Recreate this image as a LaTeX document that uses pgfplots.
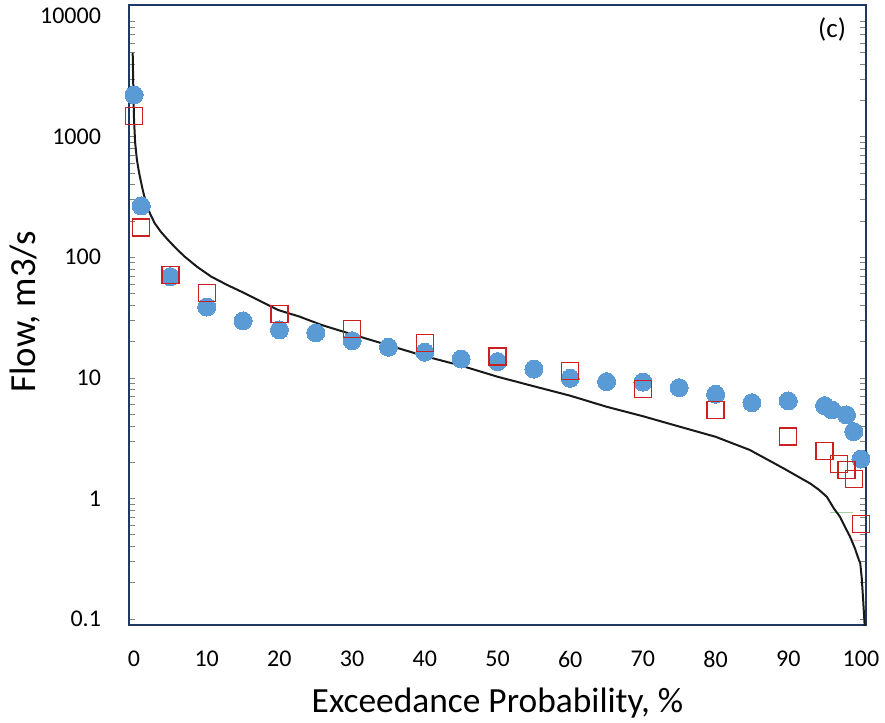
\documentclass[border=0pt]{standalone}
\usepackage{pgfplots}
\pgfplotsset{compat=1.18}
\usepackage{fontspec}
\setmainfont{Carlito}
\definecolor{bluept}{HTML}{5B9BD5}
\definecolor{redsq}{HTML}{CC1F1F}
\definecolor{frame}{HTML}{1F3864}
\begin{document}
\begin{tikzpicture}
\path[use as bounding box] (-64.5pt,-49pt) rectangle (378pt,312.5pt);
\begin{axis}[
  scale only axis, width=368.5pt, height=310pt,
  ymode=log, xmin=-0.69, xmax=100.69, ymin=0.0891, ymax=12330,
  axis line style={draw=frame, line width=1pt},
  major tick length=0, minor tick num=0,
  ytick={0.1,1,10,100,1000,10000},
  yticklabels={0.1,1,10,100,1000,10000},
  xtick={0,10,20,30,40,50,60,70,80,90,100},
  xticklabels={0,10,20,30,40,50,60,70,80,90,100},
  tick label style={font=\fontsize{12}{14}\selectfont},
  yticklabel style={xshift=-10.5pt},
  xticklabel style={yshift=-9.5pt},
  xlabel={Exceedance Probability, \%},
  ylabel={Flow, m3/s},
  xlabel style={font=\fontsize{17.7}{21}\selectfont, at={(axis description cs:0.5,-0.126)}, anchor=center},
  ylabel style={font=\fontsize{18.4}{22}\selectfont, at={(axis description cs:-0.141,0.505)}, anchor=center},
  clip=true,
]
\addplot[only marks, color=bluept, mark=*, mark size=4.5pt, mark options={draw=bluept, fill=bluept, line width=0pt}] coordinates {
(0,2213) (1,266) (5,68.9) (10,38.6) (15,29.6) (20,24.9) (25,23.6) (30,20.3)
(35,17.9) (40,16.3) (45,14.3) (50,13.6) (55,11.8) (60,9.9) (65,9.29) (70,9.2)
(75,8.28) (80,7.30) (85,6.22) (90,6.43) (95,5.88) (96,5.41) (98,4.92) (99,3.58) (100,2.12)
};
\addplot[only marks, color=redsq, mark=square, mark size=4.25pt, mark options={draw=redsq, line width=0.65pt, fill=none}] coordinates {
(0,1489) (1,176) (5,71.1) (10,50.2) (20,33.8) (30,25.4) (40,19.5) (50,15.0)
(60,11.4) (70,8.03) (80,5.41) (90,3.25) (95,2.47) (97,1.93) (98,1.72) (99,1.44) (100,0.614)
};
\addplot[color=green!50!black!60, line width=0.4pt, opacity=0.6] coordinates {(95.7,0.771) (98.9,0.771)};
\addplot[color=red!40, line width=0.4pt, opacity=0.7] coordinates {(98.9,0.444) (100.1,0.444)};
\addplot[color=black!90, line width=1pt, line join=round] coordinates {
(-0.18,4910) (-0.12,3000) (-0.05,1900) (0.0,1400) (0.15,900) (0.4,640) (0.7,500) (1.0,410)
(1.3,340) (1.69,280) (2.2,230) (2.85,191) (3.7,162) (4.68,139) (5.8,118)
(6.97,101) (8.7,83) (10.63,68.9) (12.9,58.5) (15.23,50.2) (17.5,42.8) (19.8,36.5) (22.8,32.1) (25.8,27.4)
(30,22.9) (35,18.6) (40,15.1) (45,12.6) (50,10.2) (55,8.5) (60,7.1) (65,5.75)
(70,4.8) (75,3.94) (80,3.24) (84.7,2.52) (89.3,1.78) (91.3,1.52) (93.0,1.33) (94.2,1.18) (95.3,1.03)
(96.3,0.82) (97.1,0.705) (97.8,0.58) (98.5,0.481) (99.2,0.38) (99.7,0.31) (99.9,0.290) (100.1,0.22) (100.3,0.1435) (100.55,0.08)
};
\node[font=\fontsize{13.5}{16}\selectfont] at (axis description cs:0.954,0.96) {(c)};
\end{axis}
\end{tikzpicture}
\end{document}
